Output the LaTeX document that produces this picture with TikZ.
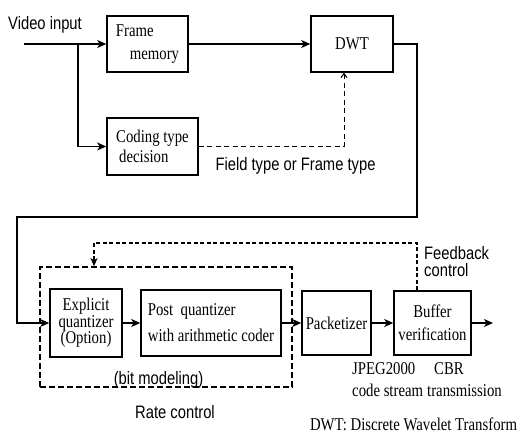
\documentclass[tikz,border=0pt]{standalone}
\usepackage{fontspec}
\setmainfont{Liberation Serif}[FakeStretch=0.82]
\newfontfamily\sanf{Liberation Sans}[FakeStretch=0.82]
\usetikzlibrary{arrows.meta,calc}
\begin{document}
\begin{tikzpicture}[x=1pt,y=-1pt,
  box/.style={draw,line width=1.6pt,inner sep=2pt,font=\fontsize{18}{22}\selectfont},
  lab/.style={inner sep=0pt,font=\sanf\fontsize{18}{17}\selectfont},
  ser/.style={inner sep=0pt,font=\fontsize{18}{22}\selectfont},
  conn/.style={line width=1.6pt,-{Stealth[length=9pt,width=8pt,inset=2.5pt]}},
  thindash/.style={line width=1pt,dash pattern=on 5pt off 3.5pt},
  fbdash/.style={line width=1.2pt,dash pattern=on 4pt off 2.5pt,-{Stealth[length=8pt,width=7pt,inset=2pt]}},
  rcbox/.style={draw,line width=1.6pt,dash pattern=on 6pt off 3pt,inner sep=0pt}]
\useasboundingbox (0,0) rectangle (521,435);

% dashed rate-control frame
\node[rcbox,minimum width=252,minimum height=120] (rc) at (166,327) {};

% boxes
\node[box,minimum width=81,minimum height=56,align=left,font=\fontsize{18}{23}\selectfont] (fm) at (147.5,44) {Frame\\\hspace*{14pt}memory};
\node[box,minimum width=91,minimum height=57,align=left,font=\fontsize{18}{20}\selectfont] (ct) at (152.5,146.5) {Coding type\\\hspace*{3pt}decision};
\node[box,minimum width=82,minimum height=56] (dwt) at (352,44) {DWT};
\node[box,minimum width=72,minimum height=68,align=center,font=\fontsize{18}{16.5}\selectfont] (eq) at (86,323) {Explicit\\quantizer\\(Option)};
\node[box,minimum width=140,minimum height=66,align=left,font=\fontsize{18}{26}\selectfont] (pq) at (211,323) {Post\ \ quantizer\\with arithmetic coder};
\node[box,minimum width=69,minimum height=64] (pk) at (336.5,323) {Packetizer};
\node[box,minimum width=77,minimum height=64,align=center,font=\fontsize{18}{23}\selectfont] (bv) at (432.5,323) {Buffer\\verification};

% labels
\node[lab] (vi) at (45,24.5) {Video input};
\node[lab] (ft) at (295.5,166) {Field type or Frame type};
\node[lab] (bm) at (158.5,380) {(bit modeling)};
\node[lab] (rcl) at (175,412.5) {Rate control};
\node[lab,align=left,anchor=west] (fc) at (424,262) {Feedback\\control};
\node[ser,align=left,anchor=west] (js) at (352,380) {JPEG2000\\code stream};
\node[ser,align=left,anchor=west] (cbr) at (427,380) {\hspace*{7pt}CBR\\transmission};
\node[ser] (leg) at (413.5,424.5) {DWT: Discrete Wavelet Transform};

% connectors
\coordinate (vin) at (24,44);
\coordinate (br) at (78,44);
\draw[conn] (vin) -- (fm.west);
\draw[conn] (br) |- (ct.west);
\draw[conn] (fm.east) -- (dwt.west);
\draw[thindash,-{Straight Barb[length=4pt,width=6pt]}] (ct.east) -| ([xshift=-8pt]dwt.south);

\coordinate (c1) at (417,217);
\coordinate (c2) at (17,217);
\draw[conn] (dwt.east) -| (c1) -- (c2) |- (eq.west);
\draw[conn] (eq.east) -- (pq.west);
\draw[conn] (pq.east) -- (pk.west);
\draw[conn] (pk.east) -- (bv.west);
\coordinate (out) at (493,323);
\draw[conn] (bv.east) -- (out);

\coordinate (fb1) at (417,243);
\coordinate (fb2) at (94,243);
\draw[fbdash] (bv.north -| fb1) -- (fb1) -- (fb2) -- (rc.north -| fb2);
\end{tikzpicture}
\end{document}
